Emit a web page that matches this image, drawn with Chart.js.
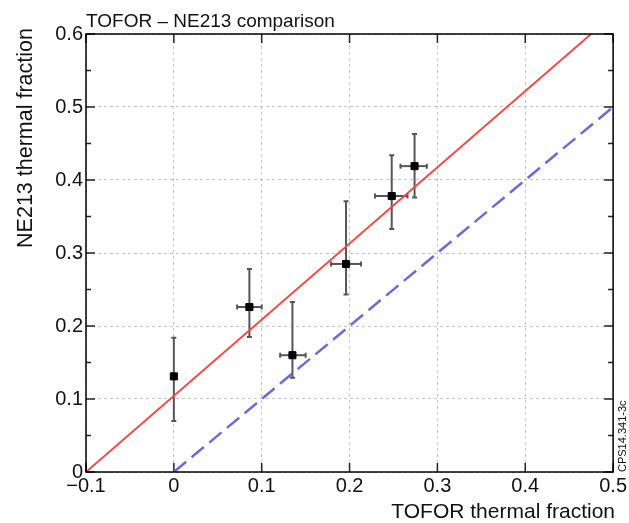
<!DOCTYPE html>
<html><head><meta charset="utf-8">
<script src="https://cdn.jsdelivr.net/npm/chart.js@4"></script>
<style>html,body{margin:0;padding:0;background:#fff;}#wrap{width:629px;height:523px;position:relative;}</style>
</head><body><div id="wrap"><canvas id="c" width="629" height="523"></canvas></div>
<script>
const chartTitle = "TOFOR \u2013 NE213 comparison";
const xTitle = "TOFOR thermal fraction";
const yTitle = "NE213 thermal fraction";
const sideNote = "CPS14.341-3c";

const xTickValues = [-0.1, 0, 0.1, 0.2, 0.3, 0.4, 0.5];
const xTickLabels = ["\u22120.1", "0", "0.1", "0.2", "0.3", "0.4", "0.5"];
const yTickValues = [0, 0.1, 0.2, 0.3, 0.4, 0.5, 0.6];
const yTickLabels = ["0", "0.1", "0.2", "0.3", "0.4", "0.5", "0.6"];

const tofor = [0.0, 0.086, 0.135, 0.196, 0.248, 0.274];
const ne213 = [0.131, 0.226, 0.160, 0.285, 0.378, 0.419];
const toforLow  = [0.0, 0.072, 0.121, 0.179, 0.229, 0.258];
const toforHigh = [0.0, 0.100, 0.150, 0.213, 0.266, 0.288];
const ne213Low  = [0.070, 0.185, 0.129, 0.243, 0.333, 0.376];
const ne213High = [0.184, 0.278, 0.233, 0.371, 0.434, 0.463];

const fitX = [-0.1, 0.475];
const fitY = [0.0, 0.6];
const unityX = [0.0, 0.5];
const unityY = [0.0, 0.5];

const FONT = "'Liberation Sans', Arial, sans-serif";

const overlay = {
  id: 'overlay',
  beforeDatasetsDraw(chart) {
    const ctx = chart.ctx, xs = chart.scales.x, ys = chart.scales.y, a = chart.chartArea;
    ctx.save();
    ctx.strokeStyle = '#222';
    ctx.lineWidth = 1.5;
    yTickValues.forEach(v => {
      const py = ys.getPixelForValue(v);
      ctx.beginPath(); ctx.moveTo(a.left, py); ctx.lineTo(a.left + 9, py);
      ctx.moveTo(a.right, py); ctx.lineTo(a.right - 9, py); ctx.stroke();
    });
    for (let i = 0; i < yTickValues.length - 1; i++) {
      const py = ys.getPixelForValue((yTickValues[i] + yTickValues[i+1]) / 2);
      ctx.beginPath(); ctx.moveTo(a.left, py); ctx.lineTo(a.left + 5, py);
      ctx.moveTo(a.right, py); ctx.lineTo(a.right - 5, py); ctx.stroke();
    }
    xTickValues.forEach(v => {
      const px = xs.getPixelForValue(v);
      ctx.beginPath(); ctx.moveTo(px, a.bottom); ctx.lineTo(px, a.bottom - 9);
      ctx.moveTo(px, a.top); ctx.lineTo(px, a.top + 9); ctx.stroke();
    });
    ctx.strokeStyle = '#555';
    ctx.lineWidth = 2;
    for (let i = 0; i < tofor.length; i++) {
      const px = xs.getPixelForValue(tofor[i]);
      const py = ys.getPixelForValue(ne213[i]);
      const yl = ys.getPixelForValue(ne213Low[i]);
      const yh = ys.getPixelForValue(ne213High[i]);
      ctx.beginPath(); ctx.moveTo(px, yl); ctx.lineTo(px, yh); ctx.stroke();
      ctx.beginPath(); ctx.moveTo(px - 2.5, yl); ctx.lineTo(px + 2.5, yl);
      ctx.moveTo(px - 2.5, yh); ctx.lineTo(px + 2.5, yh); ctx.stroke();
      if (toforHigh[i] > toforLow[i]) {
        const xl = xs.getPixelForValue(toforLow[i]);
        const xh = xs.getPixelForValue(toforHigh[i]);
        ctx.beginPath(); ctx.moveTo(xl, py); ctx.lineTo(xh, py); ctx.stroke();
        ctx.beginPath(); ctx.moveTo(xl, py - 2.5); ctx.lineTo(xl, py + 2.5);
        ctx.moveTo(xh, py - 2.5); ctx.lineTo(xh, py + 2.5); ctx.stroke();
      }
    }
    ctx.restore();
  },
  afterDraw(chart) {
    const ctx = chart.ctx, a = chart.chartArea;
    ctx.save();
    ctx.strokeStyle = '#000';
    ctx.lineWidth = 1.5;
    ctx.strokeRect(a.left, a.top, a.right - a.left, a.bottom - a.top);
    ctx.fillStyle = '#111';
    ctx.font = "19px " + FONT;
    ctx.textAlign = 'left'; ctx.textBaseline = 'alphabetic';
    ctx.fillText(chartTitle, 86, 27);
    ctx.font = "21px " + FONT;
    ctx.textAlign = 'right';
    ctx.fillText(xTitle, 615, 518);
    ctx.save();
    ctx.font = "21.5px " + FONT;
    ctx.translate(32, 138);
    ctx.rotate(-Math.PI / 2);
    ctx.textAlign = 'center';
    ctx.fillText(yTitle, 0, 0);
    ctx.restore();
    ctx.save();
    ctx.font = "11px " + FONT;
    ctx.translate(626, 472);
    ctx.rotate(-Math.PI / 2);
    ctx.textAlign = 'left';
    ctx.fillText(sideNote, 0, 0);
    ctx.restore();
    ctx.restore();
  }
};

new Chart(document.getElementById('c'), {
  type: 'scatter',
  data: {
    datasets: [
      {
        label: 'fit', type: 'line',
        data: fitX.map((x, i) => ({x, y: fitY[i]})),
        borderColor: '#f24a4a', borderWidth: 2, pointRadius: 0, fill: false, order: 2
      },
      {
        label: 'unity', type: 'line',
        data: unityX.map((x, i) => ({x, y: unityY[i]})),
        borderColor: '#6b6bd3', borderWidth: 2.5, borderDash: [16, 7], pointRadius: 0, fill: false, order: 2
      },
      {
        label: 'data',
        data: tofor.map((x, i) => ({x, y: ne213[i]})),
        backgroundColor: '#000', borderColor: '#000',
        pointStyle: 'rect', pointRadius: 5, pointHoverRadius: 5, order: 1
      }
    ]
  },
  options: {
    responsive: false,
    animation: false,
    events: [],
    layout: { padding: { left: 0, top: 34, right: 15, bottom: 0 } },
    plugins: { legend: { display: false }, tooltip: { enabled: false }, title: { display: false } },
    scales: {
      x: {
        type: 'linear', min: -0.1, max: 0.5,
        afterBuildTicks: s => { s.ticks = xTickValues.map(v => ({value: v})); },
        afterFit: s => { s.height = 51; },
        ticks: {
          callback: (v) => { const i = xTickValues.findIndex(t => Math.abs(t - v) < 1e-9); return i >= 0 ? xTickLabels[i] : ''; },
          font: { size: 20, family: FONT }, color: '#111', maxRotation: 0, padding: 2
        },
        grid: { color: '#c4c4c4', lineWidth: 1, drawTicks: false },
        border: { display: false, dash: [3, 3] }
      },
      y: {
        type: 'linear', min: 0, max: 0.6,
        afterBuildTicks: s => { s.ticks = yTickValues.map(v => ({value: v})); },
        afterFit: s => { s.width = 86; },
        ticks: {
          callback: (v) => { const i = yTickValues.findIndex(t => Math.abs(t - v) < 1e-9); return i >= 0 ? yTickLabels[i] : ''; },
          font: { size: 20, family: FONT }, color: '#111', padding: 3
        },
        grid: { color: '#c4c4c4', lineWidth: 1, drawTicks: false },
        border: { display: false, dash: [3, 3] }
      }
    }
  },
  plugins: [overlay]
});
</script></body></html>
